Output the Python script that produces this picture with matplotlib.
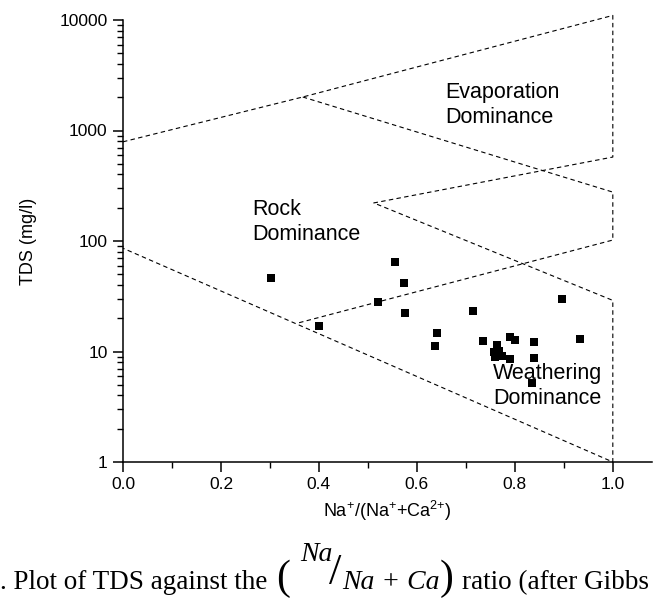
import matplotlib
matplotlib.use("Agg")
import matplotlib.pyplot as plt
from matplotlib.ticker import FixedLocator, NullFormatter, MultipleLocator

plt.rcParams['font.family'] = ['Liberation Sans', 'DejaVu Sans']
plt.rcParams['mathtext.default'] = 'regular'

# samples: Na/(Na+Ca) ratio and TDS (mg/l)
ratio = [0.303, 0.401, 0.520, 0.555, 0.574, 0.576, 0.636, 0.641, 0.715, 0.734,
         0.763, 0.758, 0.759, 0.773, 0.768, 0.790, 0.800, 0.790, 0.840, 0.840,
         0.834, 0.897, 0.934]
tds = [46.5, 17.0, 28.2, 64.5, 41.4, 22.5, 11.2, 14.6, 23.1, 12.5,
       11.4, 10.0, 9.0, 9.1, 10.2, 13.6, 12.7, 8.5, 12.2, 8.7,
       5.15, 29.9, 13.1]

# Gibbs boundary (outer envelope and inner boomerang)
outer_x = [0.0, 0.367, 1.0, 1.0, 0.512, 1.0, 1.0, 0.0]
outer_y = [790, 2010, 11000, 575, 221, 29, 1, 86]
inner_x = [0.367, 1.0, 1.0, 0.355]
inner_y = [2010, 277, 102, 18]

x_ticks = [0.0, 0.2, 0.4, 0.6, 0.8, 1.0]
y_ticks = [1, 10, 100, 1000, 10000]

fig = plt.figure(figsize=(6.55, 5.99), dpi=100)
ax = fig.add_axes([123 / 655, 137 / 599, 529 / 655, 442 / 599])

ax.plot(outer_x, outer_y, color='black', lw=0.8, ls=(0, (4, 3)), clip_on=False)
ax.plot(inner_x, inner_y, color='black', lw=0.8, ls=(0, (4, 3)), clip_on=False)
ax.plot(ratio, tds, 's', color='black', ms=5.2, mew=0, clip_on=False)

ax.set_yscale('log')
ax.set_xlim(0, 1.08)
ax.set_ylim(1, 10000)

ax.yaxis.set_major_locator(FixedLocator(y_ticks))
ax.set_yticklabels([str(v) for v in y_ticks])
ax.yaxis.set_minor_locator(FixedLocator([m * 10 ** e for e in range(4) for m in range(2, 10)]))
ax.yaxis.set_minor_formatter(NullFormatter())
ax.set_xticks(x_ticks)
ax.set_xticklabels(['%.1f' % v for v in x_ticks])
ax.xaxis.set_minor_locator(MultipleLocator(0.1))

for s in ['top', 'right']:
    ax.spines[s].set_visible(False)
for s in ['left', 'bottom']:
    ax.spines[s].set_linewidth(1.1)
ax.tick_params(which='major', length=7, width=1.1, labelsize=12.5, direction='out', pad=4)
ax.tick_params(which='minor', length=4, width=1.0, direction='out')

ax.set_xlabel('Na$^{+}$/(Na$^{+}$+Ca$^{2{+}}$)', fontsize=13, labelpad=5)
ax.set_ylabel('TDS (mg/l)', fontsize=13, labelpad=16)

ax.text(0.657, 1700, 'Evaporation\nDominance', fontsize=15.5, ha='left', va='center', linespacing=1.25)
ax.text(0.263, 150, 'Rock\nDominance', fontsize=15.5, ha='left', va='center', linespacing=1.25)
ax.text(0.755, 4.9, 'Weathering\nDominance', fontsize=15.5, ha='left', va='center', linespacing=1.25)

# caption below the chart (cut off at both sides like the source)
serif = ['Liberation Serif', 'DejaVu Serif']
base = 1 - 589 / 599
fig.text(0.0, base, '. Plot of TDS against the', family=serif, fontsize=19.5, ha='left', va='baseline')
fig.text(276 / 655, base, '(', family=serif, fontsize=30, ha='left', va='baseline')
fig.text(300 / 655, 1 - 561 / 599, 'Na', family=serif, style='italic', fontsize=20, ha='left', va='baseline')
fig.text(329 / 655, 1 - 584 / 599, '/', family=serif, fontsize=32, ha='left', va='baseline')
fig.text(342 / 655, base, 'Na + Ca', family=serif, style='italic', fontsize=20, ha='left', va='baseline')
fig.text(440 / 655, base, ')', family=serif, fontsize=30, ha='left', va='baseline')
fig.text(462 / 655, base, 'ratio (after Gibbs', family=serif, fontsize=19.5, ha='left', va='baseline')

fig.savefig('out.png', dpi=100)
